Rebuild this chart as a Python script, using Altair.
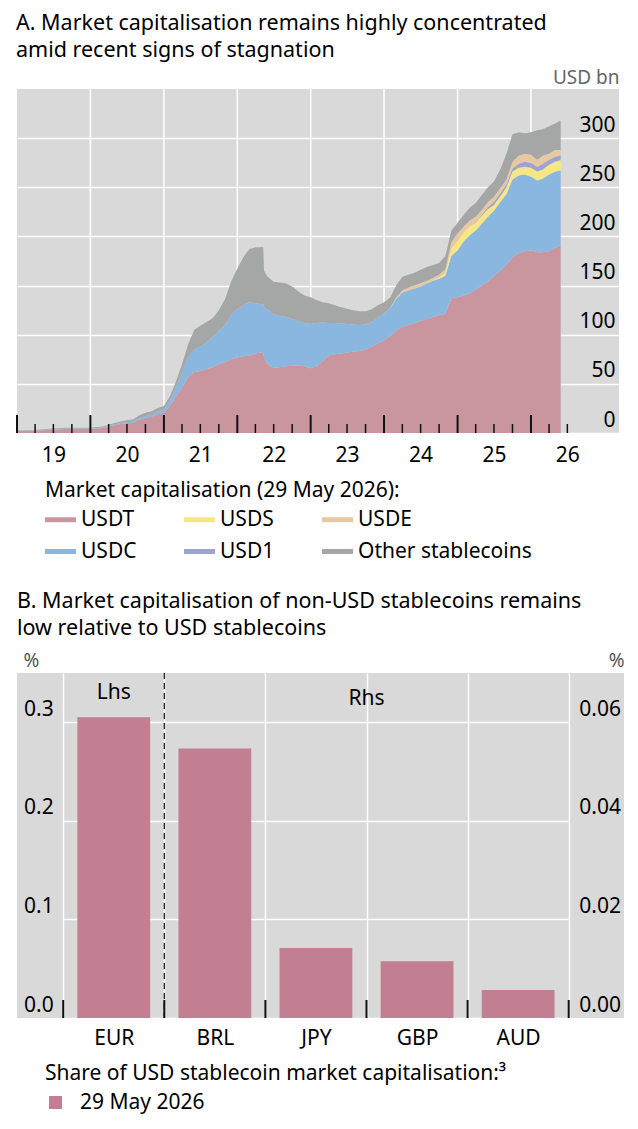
import altair as alt
import pandas as pd

# ---------------- Panel A data (USD bn) ----------------
months = [f"{m:02d}" for m in range(1, 13)]
dates = ([f"2019-{m}-01" for m in months] + [f"2020-{m}-01" for m in months] +
         [f"2021-{m}-01" for m in months] +
         ["2022-01-01", "2022-02-01", "2022-03-01", "2022-04-01", "2022-05-01", "2022-05-10",
          "2022-05-14", "2022-06-01", "2022-07-01", "2022-08-01", "2022-09-01", "2022-10-01",
          "2022-11-01", "2022-12-01"] +
         [f"2023-{m}-01" for m in months] + [f"2024-{m}-01" for m in months] +
         [f"2025-{m}-01" for m in months] +
         ["2026-01-01", "2026-02-01", "2026-03-01", "2026-04-01", "2026-05-01", "2026-05-29"])

usdt = [2.0, 2.0, 2.0, 2.2, 2.6, 3.0, 3.5, 3.9, 4.0, 4.1, 4.1, 4.1,
        4.1, 4.6, 5.0, 6.5, 8.0, 9.2, 9.9, 10.5, 13.5, 15.5, 16.5, 19.0,
        20.7, 28, 37, 46, 57, 62, 63, 65, 67, 70, 72, 75,
        77, 78, 78.5, 81, 82, 81.5, 77, 70, 66.5, 67, 68, 68.5, 68.5, 68,
        66, 68, 73, 79, 80, 81, 82, 83, 83.5, 85, 88, 91,
        94, 99, 104, 108, 110, 112, 114, 116, 118, 120, 121, 137,
        138, 140, 142, 146, 150, 154, 160, 165, 171, 179, 183, 185,
        186, 184, 184, 185, 188, 191]
usdc = [0.25, 0.25, 0.25, 0.25, 0.3, 0.35, 0.45, 0.45, 0.45, 0.45, 0.45, 0.45,
        0.5, 0.6, 0.7, 0.8, 0.9, 1.0, 1.1, 1.2, 1.5, 1.7, 2.0, 2.8,
        3.3, 5, 9, 15, 20, 23, 25, 27, 31, 34, 38, 45,
        49, 52, 54.5, 51, 49, 49.5, 51, 56, 54.5, 52, 50, 47.5, 45.5, 44,
        45, 44, 39.5, 33, 32, 30.5, 29, 27.5, 26.5, 25.5, 25, 26,
        27, 28, 32, 35, 35, 35, 35, 36, 37, 37, 39, 43,
        48, 55, 59, 60, 63, 66, 66, 70, 72, 79, 79, 78,
        75, 73, 75, 78, 78, 76]
usds = ([0] * 62 +
        [0, 0, 0, 0, 0, 0, 0, 0, 0.3, 1.5, 3, 8] +
        [9, 9, 9, 8, 8, 8, 6, 6, 7, 8, 8, 8] +
        [9, 9, 9, 10, 10, 10.5])
usd1 = ([0] * 74 +
        [0, 0, 0, 0.5, 1, 2, 3, 3, 3, 3, 4, 5] +
        [5, 5, 6, 5, 5, 5])
usde = ([0] * 62 +
        [0.1, 0.5, 1.5, 2.3, 2.8, 3.4, 3.4, 3.0, 2.6, 2.6, 3.5, 6] +
        [8, 6, 6, 5.5, 5, 5, 5, 5, 5, 7, 8, 8] +
        [8, 7, 8, 6, 7, 5.5])
other = [0.6, 0.6, 0.65, 0.7, 0.75, 0.8, 0.85, 0.85, 0.8, 0.8, 0.8, 0.8,
         0.8, 0.9, 1.0, 1.1, 1.3, 1.6, 1.9, 2.4, 3.0, 3.4, 3.6, 3.6,
         3.5, 5, 6, 9, 13, 20, 21, 21, 19, 21, 26, 34,
         41, 49, 54, 57, 58, 58.5, 37, 33, 33, 34, 34, 33, 30, 28,
         27, 23, 20.5, 20, 18, 16.5, 15.5, 14.5, 14, 13.5, 13, 13,
         11.9, 10.5, 12.5, 13.7, 13.2, 12.6, 13.6, 14, 13.1, 11.9, 13.5, 12,
         11, 12, 13, 14, 15, 15, 16, 19, 26, 28, 24, 21,
         23, 30, 27, 28, 27, 30]

stack_names = ["USDT", "USDC", "USDS", "USD1", "USDE", "Other stablecoins"]
stack_values = [usdt, usdc, usds, usd1, usde, other]
legend_order = ["USDT", "USDS", "USDE", "USDC", "USD1", "Other stablecoins"]
legend_colors = ["#c9959f", "#f6e784", "#e6c9a0", "#89b7e0", "#9ea4d2", "#a5a7a7"]

year_labels = [alt.DateTime(year=y, month=7, date=1) for y in range(2019, 2027)]
grid_years = [f"{y}-01-01" for y in range(2020, 2027)]
major_ticks = [f"{y}-01-01" for y in range(2019, 2027)]
minor_ticks = [f"{y}-{m:02d}-01" for y in range(2019, 2027) for m in (4, 7, 10)
               if not (y == 2026 and m == 10)]

# ---------------- Panel B data (%) ----------------
currencies = ["EUR", "BRL", "JPY", "GBP", "AUD"]
shares = [0.305, 0.0547, 0.0142, 0.0115, 0.0057]
sides = ["Lhs", "Rhs", "Rhs", "Rhs", "Rhs"]
side_labels = ["Lhs", "Rhs"]
side_label_cur = ["EUR", "GBP"]

FONT = "Noto Sans"
TITLE_SIZE = 21.5
TEXT_SIZE = 21

# ---------------- Panel A chart ----------------
rows = []
for i, d in enumerate(dates):
    for k, (name, vals) in enumerate(zip(stack_names, stack_values)):
        rows.append({"date": d, "coin": name, "value": vals[i], "ord": k})
df = pd.DataFrame(rows)

WA, HA = 602, 344
xa_scale = alt.Scale(domain=[alt.DateTime(year=2019, month=1, date=1),
                             alt.DateTime(year=2027, month=3, date=15)])
xa_axis = alt.Axis(values=year_labels, format="%y", title=None, ticks=False,
                   domain=False, grid=False, labelFontSize=TEXT_SIZE, labelPadding=11,
                   labelFlush=False, labelColor="black")


def xa():
    return alt.X("date:T", scale=xa_scale, axis=xa_axis)


areas = alt.Chart(df).mark_area(interpolate="linear", opacity=1).encode(
    x=xa(),
    y=alt.Y("value:Q", stack="zero", scale=alt.Scale(domain=[0, 350], nice=False),
            axis=alt.Axis(orient="right", values=[0, 50, 100, 150, 200, 250, 300],
                          grid=True, gridColor="white", gridWidth=1.5, ticks=False,
                          tickSize=0, domain=False, labelAlign="right", labelPadding=-4,
                          labelBaseline="alphabetic", labelOffset=-7, labelFontSize=TEXT_SIZE,
                          labelColor="black", title="USD bn", titleAngle=0,
                          titleAlign="right", titleX=0, titleY=-6,
                          titleBaseline="alphabetic", titleFontSize=19,
                          titleFontWeight="normal", titleColor="#666666")),
    color=alt.Color("coin:N", scale=alt.Scale(domain=legend_order, range=legend_colors),
                    legend=alt.Legend(orient="none", legendX=28, legendY=391, columns=3,
                                      direction="horizontal", columnPadding=47,
                                      rowPadding=6, title="Market capitalisation (29 May 2026):",
                                      titleFontSize=TEXT_SIZE, titleFontWeight="normal",
                                      titleColor="black", titlePadding=3, titleLimit=600,
                                      labelFontSize=TEXT_SIZE, labelColor="black", labelLimit=300,
                                      symbolType="M-1,-0.16H1V0.16H-1Z", symbolSize=961,
                                      symbolStrokeWidth=0, symbolOpacity=1, labelOffset=5)),
    order=alt.Order("ord:Q", sort="ascending"),
)

vgrid = alt.Chart(pd.DataFrame({"date": grid_years})).mark_rule(
    color="white", strokeWidth=1.5).encode(x=xa())

major = alt.Chart(pd.DataFrame({"date": major_ticks})).mark_rule(
    color="#111111", strokeWidth=2).encode(
    x=xa(), y=alt.value(HA - 18), y2=alt.value(HA))
minor = alt.Chart(pd.DataFrame({"date": minor_ticks})).mark_rule(
    color="#111111", strokeWidth=1.5).encode(
    x=xa(), y=alt.value(HA - 9), y2=alt.value(HA))

panel_a = alt.layer(vgrid, areas, major, minor).properties(
    width=WA, height=HA,
    title=alt.TitleParams(text=["A. Market capitalisation remains highly concentrated",
                                "amid recent signs of stagnation"],
                          anchor="start", fontSize=TITLE_SIZE, fontWeight="normal",
                          color="black", lineHeight=27, offset=7, font=FONT))

# ---------------- Panel B chart ----------------
WB, HB = 607, 345
bdf = pd.DataFrame({"cur": currencies, "share": shares, "side": sides,
                    "series": ["29 May 2026"] * 5})

xb_scale = alt.Scale(domain=currencies, range=[46.2, 551.7], paddingInner=0, paddingOuter=0)
xb_axis = alt.Axis(title=None, labelAngle=0, labelFontSize=TEXT_SIZE, labelPadding=9,
                   ticks=False, domain=False, grid=True, gridColor="white", gridWidth=1.5,
                   tickBand="extent", labelColor="black")


def xb(bp=None):
    if bp is None:
        return alt.X("cur:N", sort=currencies, scale=xb_scale, axis=xb_axis)
    return alt.X("cur:N", sort=currencies, scale=xb_scale, axis=xb_axis, bandPosition=bp)


bar_color = alt.Color("series:N", scale=alt.Scale(domain=["29 May 2026"], range=["#c27f91"]),
                      legend=alt.Legend(orient="none", legendX=28, legendY=390,
                                        title="Share of USD stablecoin market capitalisation:³",
                                        titleFontSize=TEXT_SIZE, titleFontWeight="normal",
                                        titleColor="black", titlePadding=8, titleLimit=600,
                                        labelFontSize=TEXT_SIZE, labelColor="black",
                                        symbolType="square", symbolSize=169,
                                        symbolStrokeWidth=0, symbolOpacity=1, labelOffset=14))

bars_l = alt.Chart(bdf).transform_filter(alt.datum.side == "Lhs").mark_bar(
    width={"band": 0.72}).encode(
    x=xb(),
    y=alt.Y("share:Q", scale=alt.Scale(domain=[0, 0.35], nice=False),
            axis=alt.Axis(orient="left", values=[0, 0.1, 0.2, 0.3], format=".1f", grid=True,
                          gridColor="white", gridWidth=1.5, ticks=False, tickSize=0,
                          domain=False, labelAlign="left", labelPadding=-6.5, labelOffset=-7,
                          labelBaseline="alphabetic", labelFontSize=TEXT_SIZE,
                          labelColor="black", title="%", titleAngle=0, titleAlign="left",
                          titleX=6, titleY=-7, titleBaseline="alphabetic", titleFontSize=19,
                          titleFontWeight="normal", titleColor="#555555")),
    color=bar_color,
)
bars_r = alt.Chart(bdf).transform_filter(alt.datum.side == "Rhs").mark_bar(
    width={"band": 0.72}).encode(
    x=xb(),
    y=alt.Y("share:Q", scale=alt.Scale(domain=[0, 0.07], nice=False),
            axis=alt.Axis(orient="right", values=[0, 0.02, 0.04, 0.06], format=".2f",
                          grid=False, ticks=False, tickSize=0, domain=False,
                          labelAlign="right", labelPadding=-3.5, labelOffset=-7,
                          labelBaseline="alphabetic", labelFontSize=TEXT_SIZE,
                          labelColor="black", title="%", titleAngle=0, titleAlign="right",
                          titleX=0, titleY=-7, titleBaseline="alphabetic", titleFontSize=19,
                          titleFontWeight="normal", titleColor="#555555")),
    color=bar_color,
)

ticks_b = alt.Chart(bdf).mark_rule(color="#111111", strokeWidth=2).encode(
    x=xb(0), y=alt.value(HB - 18), y2=alt.value(HB))
tick_end = alt.Chart(bdf).transform_filter(alt.datum.cur == "AUD").mark_rule(
    color="#111111", strokeWidth=2).encode(
    x=xb(1), y=alt.value(HB - 18), y2=alt.value(HB))
dash = alt.Chart(bdf).transform_filter(alt.datum.cur == "BRL").mark_rule(
    color="#111111", strokeWidth=1.2, strokeDash=[6, 4]).encode(x=xb(0))

side_df = pd.DataFrame({"cur": side_label_cur, "lab": side_labels})
lhs_txt = alt.Chart(side_df).transform_filter(alt.datum.lab == "Lhs").mark_text(
    fontSize=TEXT_SIZE, baseline="middle", align="center", color="black", font=FONT).encode(
    x=xb(), y=alt.value(20), text="lab:N")
rhs_txt = alt.Chart(side_df).transform_filter(alt.datum.lab == "Rhs").mark_text(
    fontSize=TEXT_SIZE, baseline="middle", align="center", color="black", font=FONT).encode(
    x=xb(0), y=alt.value(26), text="lab:N")

panel_b = alt.layer(bars_l, bars_r, dash, ticks_b, tick_end, lhs_txt, rhs_txt).resolve_scale(
    y="independent").properties(
    width=WB, height=HB,
    title=alt.TitleParams(text=["B. Market capitalisation of non-USD stablecoins remains",
                                "low relative to USD stablecoins"],
                          anchor="start", fontSize=TITLE_SIZE, fontWeight="normal",
                          color="black", lineHeight=27, offset=12, font=FONT))

chart = alt.vconcat(panel_a, panel_b, spacing=28).resolve_scale(
    color="independent").resolve_legend(color="independent").properties(
    padding={"left": 8, "top": 4, "right": 0, "bottom": 30}
).configure(font=FONT).configure_view(fill="#d9d9d9", stroke=None).configure_axis(
    labelFont=FONT, titleFont=FONT).configure_legend(labelFont=FONT, titleFont=FONT)

chart.save("out.html", embed_options={"renderer": "svg", "actions": False})
